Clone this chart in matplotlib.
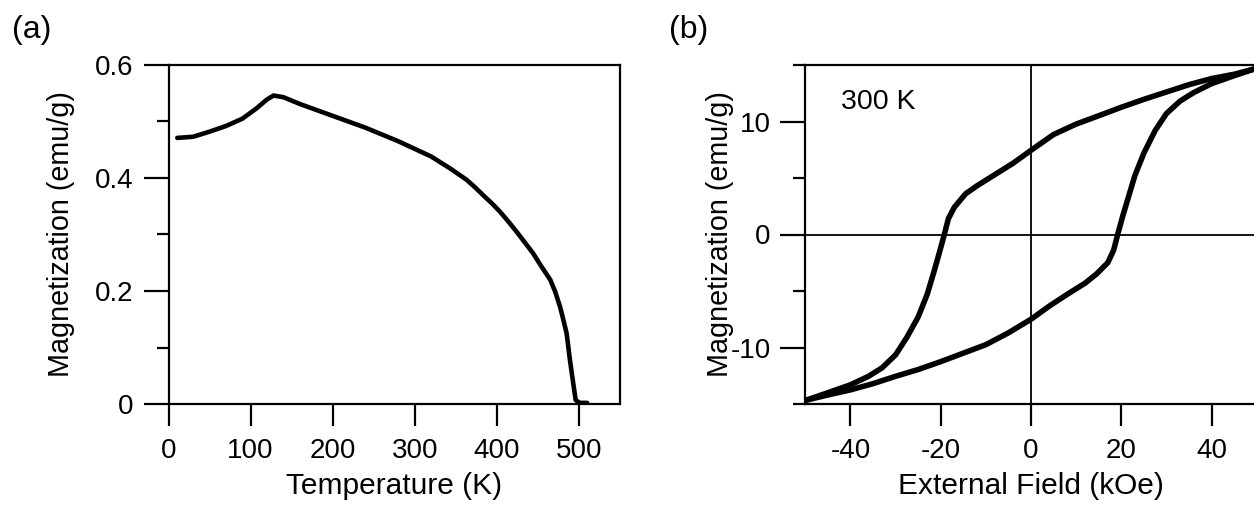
import matplotlib
matplotlib.use("Agg")
import matplotlib.pyplot as plt
from matplotlib.ticker import MultipleLocator, FuncFormatter

plt.rcParams['font.family'] = ['Liberation Sans', 'DejaVu Sans']
plt.rcParams['axes.unicode_minus'] = False

# ---- Panel (a): M vs T ----
temperature_K = [10.7, 30, 50, 70, 90, 107, 120, 128, 140, 160, 200, 240, 280, 320,
                 343, 363, 373, 383, 394, 404, 414, 424, 434, 444, 454, 465, 471,
                 477, 481, 485, 489, 493, 496, 501, 510]
magnetization_T = [0.471, 0.473, 0.482, 0.492, 0.505, 0.523, 0.539, 0.546, 0.543, 0.531,
                   0.510, 0.489, 0.465, 0.438, 0.417, 0.397, 0.384, 0.370, 0.355, 0.340,
                   0.323, 0.305, 0.286, 0.267, 0.244, 0.220, 0.199, 0.172, 0.149, 0.125,
                   0.078, 0.037, 0.007, 0.002, 0.002]

# ---- Panel (b): hysteresis loop at 300 K ----
upper_H = [49.5, 45, 40, 35, 30, 25, 20, 15, 10, 5, 0, -4, -8, -12, -14.5, -17, -18.3,
           -19.2, -20.3, -21.5, -23, -25, -27.5, -30, -33, -36, -40, -45, -49.7]
upper_M = [14.65, 14.18, 13.8, 13.26, 12.61, 11.96, 11.26, 10.51, 9.77, 8.85, 7.45, 6.3,
           5.3, 4.3, 3.6, 2.4, 1.4, 0.0, -1.6, -3.3, -5.3, -7.3, -9.1, -10.65, -11.8,
           -12.55, -13.3, -14.0, -14.65]
lower_H = [-49.7, -45, -40, -35, -30, -25, -20, -15, -10, -5, 0, 4, 8, 12, 14.5, 17, 18.3,
           19.2, 20.3, 21.5, 23, 25, 27.5, 30, 33, 36, 40, 45, 49.5]
lower_M = [-14.65, -14.2, -13.75, -13.2, -12.55, -11.95, -11.25, -10.5, -9.75, -8.7, -7.5,
           -6.35, -5.3, -4.3, -3.5, -2.5, -1.4, 0.0, 1.6, 3.2, 5.2, 7.2, 9.2, 10.7, 11.8,
           12.55, 13.35, 14.05, 14.65]

W, H = 1254, 508
fig = plt.figure(figsize=(W / 100, H / 100), dpi=100)

def px_axes(x0, x1, ytop, ybot):
    return fig.add_axes([x0 / W, 1 - ybot / H, (x1 - x0) / W, (ybot - ytop) / H])

axA = px_axes(168.5, 620, 65, 404)
axB = px_axes(805.3, 1256.7, 65, 404)

fmt = FuncFormatter(lambda v, p: f"{v:g}")
TICK_FS = 20
XLAB_FS = 21.5
YLAB_FS = 20.7

for ax in (axA, axB):
    for s in ax.spines.values():
        s.set_linewidth(1.6)
    ax.tick_params(axis='both', which='both', direction='out', width=1.6,
                   labelsize=TICK_FS, colors='black')
    ax.tick_params(axis='y', which='major', length=18, pad=7)
    ax.tick_params(axis='y', which='minor', length=9)
    ax.tick_params(axis='x', which='major', length=16, pad=8.5)
    ax.xaxis.set_major_formatter(fmt)
    ax.yaxis.set_major_formatter(fmt)

# Panel (a)
axA.plot(temperature_K, magnetization_T, color='black', lw=3.3,
         solid_joinstyle='round', solid_capstyle='round')
axA.set_xlim(0, 550)
axA.set_ylim(0, 0.6)
axA.set_xticks([0, 100, 200, 300, 400, 500])
axA.yaxis.set_major_locator(MultipleLocator(0.2))
axA.yaxis.set_minor_locator(MultipleLocator(0.1))
axA.set_xlabel('Temperature (K)', fontsize=XLAB_FS)
axA.set_ylabel('Magnetization (emu/g)', fontsize=YLAB_FS)
axA.yaxis.set_label_coords(-0.207, 0.5)
axA.xaxis.set_label_coords(0.5, -0.20)

# Panel (b)
axB.axhline(0, color='black', lw=1.3, zorder=1)
axB.axvline(0, color='black', lw=1.3, zorder=1)
axB.plot(upper_H, upper_M, color='black', lw=4.0, solid_joinstyle='round',
         solid_capstyle='round', zorder=3)
axB.plot(lower_H, lower_M, color='black', lw=4.0, solid_joinstyle='round',
         solid_capstyle='round', zorder=3)
axB.set_xlim(-50, 50)
axB.set_ylim(-15, 15)
axB.set_xticks([-40, -20, 0, 20, 40])
axB.yaxis.set_major_locator(MultipleLocator(10))
axB.yaxis.set_minor_locator(MultipleLocator(5))
axB.set_xlabel('External Field (kOe)', fontsize=XLAB_FS)
axB.set_ylabel('Magnetization (emu/g)', fontsize=YLAB_FS)
axB.yaxis.set_label_coords(-0.158, 0.5)
axB.xaxis.set_label_coords(0.5, -0.20)
axB.text(0.08, 0.87, '300 K', transform=axB.transAxes, fontsize=20.5,
         ha='left', va='baseline')

fig.text(12.0 / W, 1 - 15 / H, '(a)', fontsize=23, ha='left', va='top')
fig.text(669 / W, 1 - 15 / H, '(b)', fontsize=23, ha='left', va='top')

fig.savefig('out.png', dpi=100)
